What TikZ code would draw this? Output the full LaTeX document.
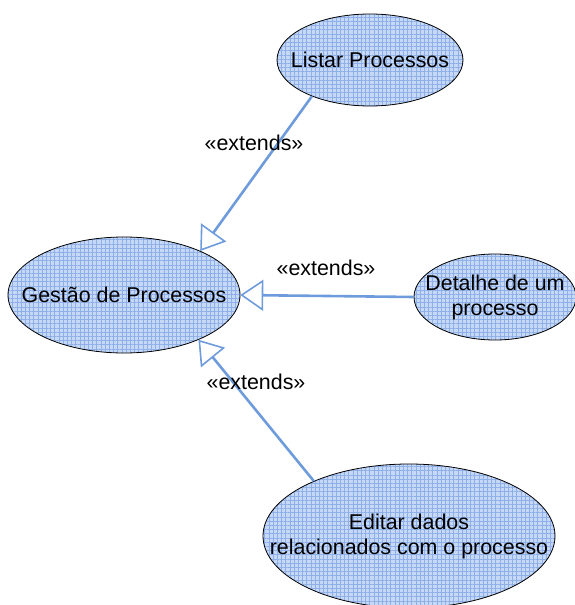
\documentclass[tikz,border=0pt]{standalone}
\usepackage{fontspec}
\setmainfont{Liberation Sans}
\usetikzlibrary{shapes.geometric,arrows.meta,patterns.meta}
\definecolor{ucfill}{RGB}{198,216,245}
\definecolor{ucgrid}{RGB}{142,176,232}
\definecolor{linkblue}{RGB}{110,155,220}
\newcommand{\ucfont}{\fontsize{21.4}{25}\selectfont}
\tikzset{
  usecase/.style={ellipse, draw=black, line width=0.8pt, inner sep=0pt,
    preaction={fill=ucfill}, pattern={Hatch[distance=4.2pt, line width=0.5pt]},
    pattern color=ucgrid},
  uctext/.style={align=center, font=\ucfont, inner sep=0pt},
  extends/.style={draw=linkblue, line width=2.6pt,
    -{Triangle[open, fill=white, length=23pt, width=31pt, line width=1.6pt]}},
  stereo/.style={font=\ucfont}
}
\begin{document}
\begin{tikzpicture}[x=1pt, y=-1pt]
  \useasboundingbox (0,0) rectangle (574,605);
  \node[usecase, minimum width=232pt, minimum height=116pt] (gestao) at (124,295) {};
  \node[usecase, minimum width=186pt, minimum height=92pt] (listar) at (370,60) {};
  \node[usecase, minimum width=162pt, minimum height=86pt] (detalhe) at (495,297) {};
  \node[usecase, minimum width=292pt, minimum height=144pt] (editar) at (409,536) {};
  \node[uctext] (gestaotxt) at (gestao) {Gest\~ao de Processos};
  \node[uctext] (listartxt) at (listar) {Listar Processos};
  \node[uctext] (detalhetxt) at (detalhe) {Detalhe de um\\processo};
  \node[uctext] (editartxt) at (editar) {Editar dados\\relacionados com o processo};
  % extends
  \draw[extends] (listar.212) to (gestao.30.5);
  \draw[extends] (detalhe.west) to (gestao.east);
  \draw[extends] (editar.150) to (gestao.-31);
  \node[stereo] (ext1) at (254,143) {«extends»};
  \node[stereo] (ext2) at (326,268) {«extends»};
  \node[stereo] (ext3) at (256,382) {«extends»};
\end{tikzpicture}
\end{document}
